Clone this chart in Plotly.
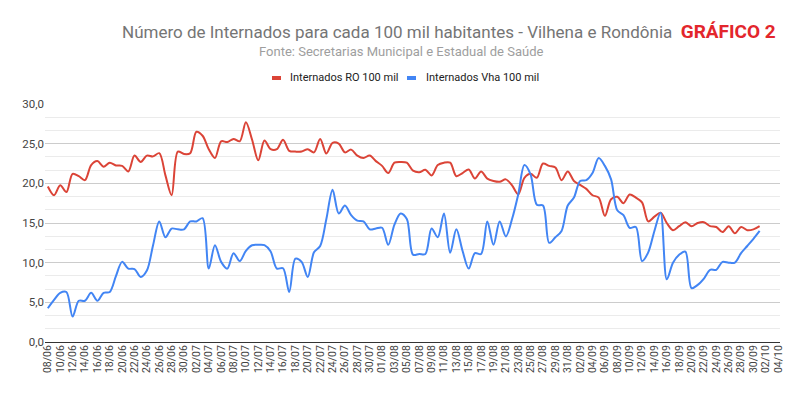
import pandas as pd
import plotly.graph_objects as go

start_date = "2020-06-08"

ro_100mil = [
    19.6, 18.5, 19.75, 18.9, 21.2, 20.9, 20.4, 22.3, 22.8, 22.1,
    22.6, 22.25, 22.2, 21.5, 23.5, 22.7, 23.5, 23.4, 23.8, 21.0,
    18.5, 24.0, 23.7, 23.8, 26.5, 26.0, 24.3, 23.2, 25.3, 25.2,
    25.6, 25.3, 27.7, 25.5, 22.9, 25.4, 24.3, 24.3, 25.5, 24.1,
    24.0, 24.0, 24.3, 23.9, 25.6, 23.75, 25.1, 25.0, 23.9, 24.25,
    23.5, 23.2, 23.5, 22.8, 22.2, 21.3, 22.6, 22.7, 22.6, 21.6,
    21.4, 21.7, 21.0, 22.3, 22.6, 22.6, 20.9, 21.3, 21.75, 20.6,
    21.5, 20.6, 20.3, 20.2, 20.5, 19.75, 18.6, 20.7, 21.2, 20.7,
    22.5, 22.2, 22.0, 20.4, 21.5, 20.3, 19.8, 19.3, 18.5, 18.2,
    15.9, 18.0, 18.3, 17.5, 18.6, 18.2, 17.6, 15.2, 15.8, 16.3,
    15.0, 14.1, 14.6, 15.1, 14.6, 15.0, 15.1, 14.6, 14.5, 13.85,
    14.6, 13.7, 14.5, 14.1, 14.2, 14.6,
]

vha_100mil = [
    4.25, 5.3, 6.2, 6.3, 3.2, 5.2, 5.2, 6.2, 5.2, 6.2,
    6.3, 8.3, 10.1, 9.25, 9.2, 8.2, 9.0, 12.2, 15.2, 13.2,
    14.3, 14.2, 14.2, 15.2, 15.2, 15.6, 9.25, 12.2, 10.1, 9.25,
    11.2, 10.2, 11.5, 12.2, 12.25, 12.2, 11.4, 9.25, 9.3, 6.3,
    10.5, 10.1, 8.2, 11.3, 12.1, 15.5, 19.2, 16.2, 17.2, 16.0,
    15.3, 15.2, 14.2, 14.3, 14.4, 12.25, 14.8, 16.2, 15.5, 11.0,
    11.1, 11.1, 14.3, 13.2, 16.2, 11.25, 14.2, 11.5, 9.25, 11.2,
    11.1, 15.2, 12.25, 15.2, 13.3, 15.5, 18.6, 22.3, 21.1, 17.3,
    17.2, 12.5, 13.2, 14.0, 17.2, 18.2, 20.3, 20.4, 21.3, 23.2,
    22.2, 20.5, 16.6, 16.0, 14.4, 14.5, 10.2, 11.3, 14.0, 16.3,
    7.9, 10.0, 11.0, 11.4, 6.8, 7.2, 8.0, 9.1, 9.1, 10.1,
    10.0, 10.0, 11.2, 12.1, 13.0, 14.0,
]

dates = pd.date_range(start_date, periods=len(ro_100mil), freq="D")

series_names = ["Internados RO 100 mil", "Internados Vha 100 mil"]
series_colors = ["#db4437", "#4285f4"]
title_text = "Número de Internados para cada 100 mil habitantes - Vilhena e Rondônia"
title_tag = "GRÁFICO 2"
subtitle_text = "Fonte: Secretarias Municipal e Estadual de Saúde"

FONT = "Roboto, Arial, sans-serif"

# page body has an 8px margin; plot area in window pixels: x 45..780, y 104..342
BODY = 8
PL, PR, PT, PB = 45, 780, 104, 342


def px(wx):
    return (wx - PL) / (PR - PL)


def py(wy):
    return 1 + (PT - wy) / (PB - PT)


fig = go.Figure()
for name, vals, col in zip(series_names, [ro_100mil, vha_100mil], series_colors):
    fig.add_trace(go.Scatter(
        x=dates, y=vals, name=name, mode="lines",
        line=dict(color=col, width=2, shape="spline", smoothing=0.9),
    ))

annotations = [
    dict(
        text=title_text + "  <b><span style='color:#e3262c;font-size:19px'>" + title_tag + "</span></b>",
        x=px(120), xref="paper", xanchor="left",
        y=py(32), yref="paper", yanchor="middle",
        showarrow=False, font=dict(family=FONT, size=17, color="#757575"),
    ),
    dict(
        text=subtitle_text,
        x=px(401), xref="paper", xanchor="center",
        y=py(52), yref="paper", yanchor="middle",
        showarrow=False, font=dict(family=FONT, size=13, color="#9e9e9e"),
    ),
]
shapes = []
legend_marks = [(272, 288), (407, 424)]
for (mx, tx), name, col in zip(legend_marks, series_names, series_colors):
    shapes.append(dict(
        type="rect", xref="paper", yref="paper",
        x0=px(mx), x1=px(mx + 9), y0=py(80), y1=py(76),
        fillcolor=col, line=dict(width=0),
    ))
    annotations.append(dict(
        text=name, x=px(tx), xref="paper", xanchor="left",
        y=py(78), yref="paper", yanchor="middle", showarrow=False,
        font=dict(family=FONT, size=11, color="#222222"),
    ))

fig.update_layout(
    width=800 - BODY, height=394 - BODY,
    margin=dict(l=PL - BODY, r=800 - PR, t=PT - BODY, b=394 - PB, autoexpand=False),
    paper_bgcolor="white", plot_bgcolor="white",
    separators=",.",
    font=dict(family=FONT, size=11, color="#444"),
    showlegend=False,
    annotations=annotations,
    shapes=shapes,
)

fig.update_xaxes(
    type="date",
    range=["2020-06-07 13:00", "2020-10-04 07:00"],
    tick0="2020-06-08", dtick=2 * 86400000, tickformat="%d/%m",
    tickangle=-90, tickfont=dict(family=FONT, size=10.5, color="#444"),
    showgrid=False, showline=False, zeroline=False, ticks="",
)
fig.update_yaxes(
    range=[0, 30], tick0=0, dtick=5, tickformat=".1f",
    tickfont=dict(family=FONT, size=11.5, color="#444"),
    showgrid=True, gridcolor="#cccccc", gridwidth=1,
    minor=dict(tick0=0, dtick=5 / 3, showgrid=True, gridcolor="#ebebeb", gridwidth=1),
    zeroline=True, zerolinecolor="#333333", zerolinewidth=1,
    showline=False, ticks="",
)

fig.write_html("out.html")
